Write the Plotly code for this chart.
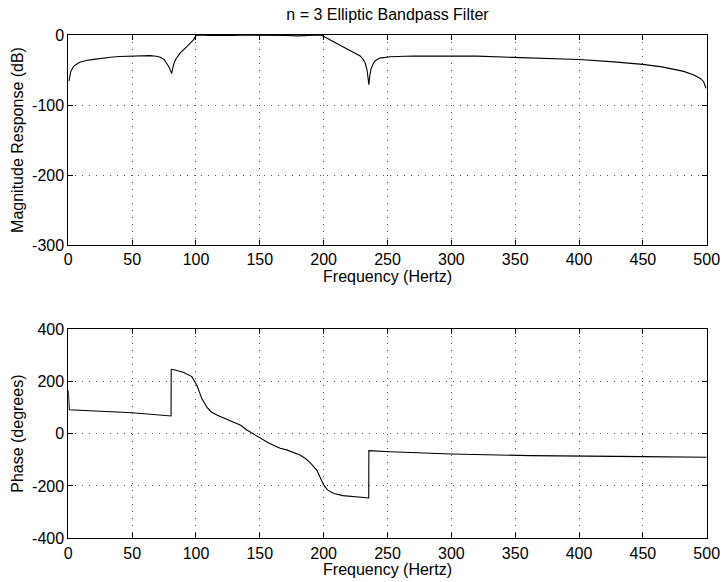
import plotly.graph_objects as go

# Magnitude response (dB) of the n = 3 elliptic bandpass filter
mag_freq = [0.5, 1, 2, 4, 6, 9, 14, 20, 27, 33, 40, 50, 58, 64, 69, 72, 75, 77, 79,
            80.5, 81, 81.5, 82.5, 84, 87.5, 92.8, 96, 98, 100, 103, 110, 120, 130,
            140, 150, 160, 170, 180, 190, 197, 199, 202, 205, 211, 218, 224, 228.6,
            231, 232.5, 234, 235, 235.4, 236, 237, 239, 241, 244, 252, 270, 300,
            320, 348, 375, 400, 425, 450, 465, 474, 482, 490, 495, 497.6, 499.5]
mag_db = [-66, -60, -52, -45, -42, -39, -36.5, -34.8, -33, -31.8, -30.8, -30, -29.6,
          -29.5, -30.3, -31.8, -35, -40, -46, -53, -55, -50, -42, -35, -26, -16.7,
          -11, -7, -1, 0, -0.8, -1.3, -0.8, -0.1, 0, -0.1, -0.8, -1.3, -0.7, 0, -1, -4,
          -7, -13, -19, -25, -30, -35, -40, -50, -63, -71, -60, -49, -40, -36, -33,
          -31, -30, -29.5, -30.2, -32, -33.5, -35, -38, -42, -45.5, -48.5, -52, -57,
          -62, -66.7, -76]

# Phase response (degrees)
ph_freq = [0, 0.8, 50, 80.5, 80.6, 83.6, 90, 96.7, 100.6, 104.5, 108.5, 112, 116.3,
           122, 129.3, 135, 139.8, 145, 150.2, 157, 163.3, 166, 171, 176, 181.5, 186,
           189.4, 194.6, 197, 200, 203, 208, 215, 225, 235.3, 235.4, 252, 300, 362,
           450, 500]
ph_deg = [165, 91, 80, 67.5, 246, 243.6, 235, 218, 186, 135, 101, 83, 71.5, 60, 46,
          32, 14, -2, -18, -36, -50, -56, -62, -70, -81.5, -96, -111, -139, -162, -196,
          -215, -229, -237, -242, -246, -65, -69, -77.6, -84, -88, -90]

x_ticks = [0, 50, 100, 150, 200, 250, 300, 350, 400, 450, 500]
mag_ticks = [0, -100, -200, -300]
mag_tick_text = ["0", "-100", "-200", "-300"]
ph_ticks = [400, 200, 0, -200, -400]
ph_tick_text = ["400", "200", "0", "-200", "-400"]

W, H = 723, 582
FONT = "Liberation Sans, Arial, Helvetica, sans-serif"
FS = 16

fig = go.Figure()
fig.add_trace(go.Scatter(x=mag_freq, y=mag_db, mode="lines",
                         line=dict(color="black", width=1.1),
                         xaxis="x", yaxis="y", showlegend=False))
fig.add_trace(go.Scatter(x=ph_freq, y=ph_deg, mode="lines",
                         line=dict(color="black", width=1.1),
                         xaxis="x2", yaxis="y2", showlegend=False))

x_dom = [68.3 / W, 706.7 / W]
top_dom = [1 - 245 / H, 1 - 35 / H]
bot_dom = [1 - 538.3 / H, 1 - 329 / H]

axis_common = dict(
    showline=True, linecolor="black", linewidth=1, mirror="ticks",
    ticks="inside", ticklen=5, tickcolor="black", tickwidth=1,
    showgrid=True, gridcolor="#555555", griddash="1px,6px", gridwidth=1,
    zeroline=False, automargin=False,
    tickfont=dict(family=FONT, size=FS, color="black"),
)
title_font = dict(family=FONT, size=FS, color="black")

fig.update_layout(
    width=W, height=H,
    margin=dict(l=0, r=0, t=0, b=0),
    paper_bgcolor="white", plot_bgcolor="white",
    font=dict(family=FONT, size=FS, color="black"),
    title=dict(text="n = 3 Elliptic Bandpass Filter", x=387.5 / W, xanchor="center",
               y=1 - 14 / H, yanchor="middle", font=title_font),
    xaxis=dict(domain=x_dom, anchor="y", range=[0, 500], tickvals=x_ticks,
               title=dict(text="Frequency (Hertz)", standoff=0, font=title_font),
               **axis_common),
    yaxis=dict(domain=top_dom, anchor="x", range=[-300, 0], tickvals=mag_ticks,
               ticktext=mag_tick_text,
               title=dict(text="Magnitude Response (dB)", standoff=4, font=title_font),
               **axis_common),
    xaxis2=dict(domain=x_dom, anchor="y2", range=[0, 500], tickvals=x_ticks,
                title=dict(text="Frequency (Hertz)", standoff=0, font=title_font),
                **axis_common),
    yaxis2=dict(domain=bot_dom, anchor="x2", range=[-400, 400], tickvals=ph_ticks,
                ticktext=ph_tick_text,
                title=dict(text="Phase (degrees)", standoff=4, font=title_font),
                **axis_common),
)

fig.write_html("out.html")
